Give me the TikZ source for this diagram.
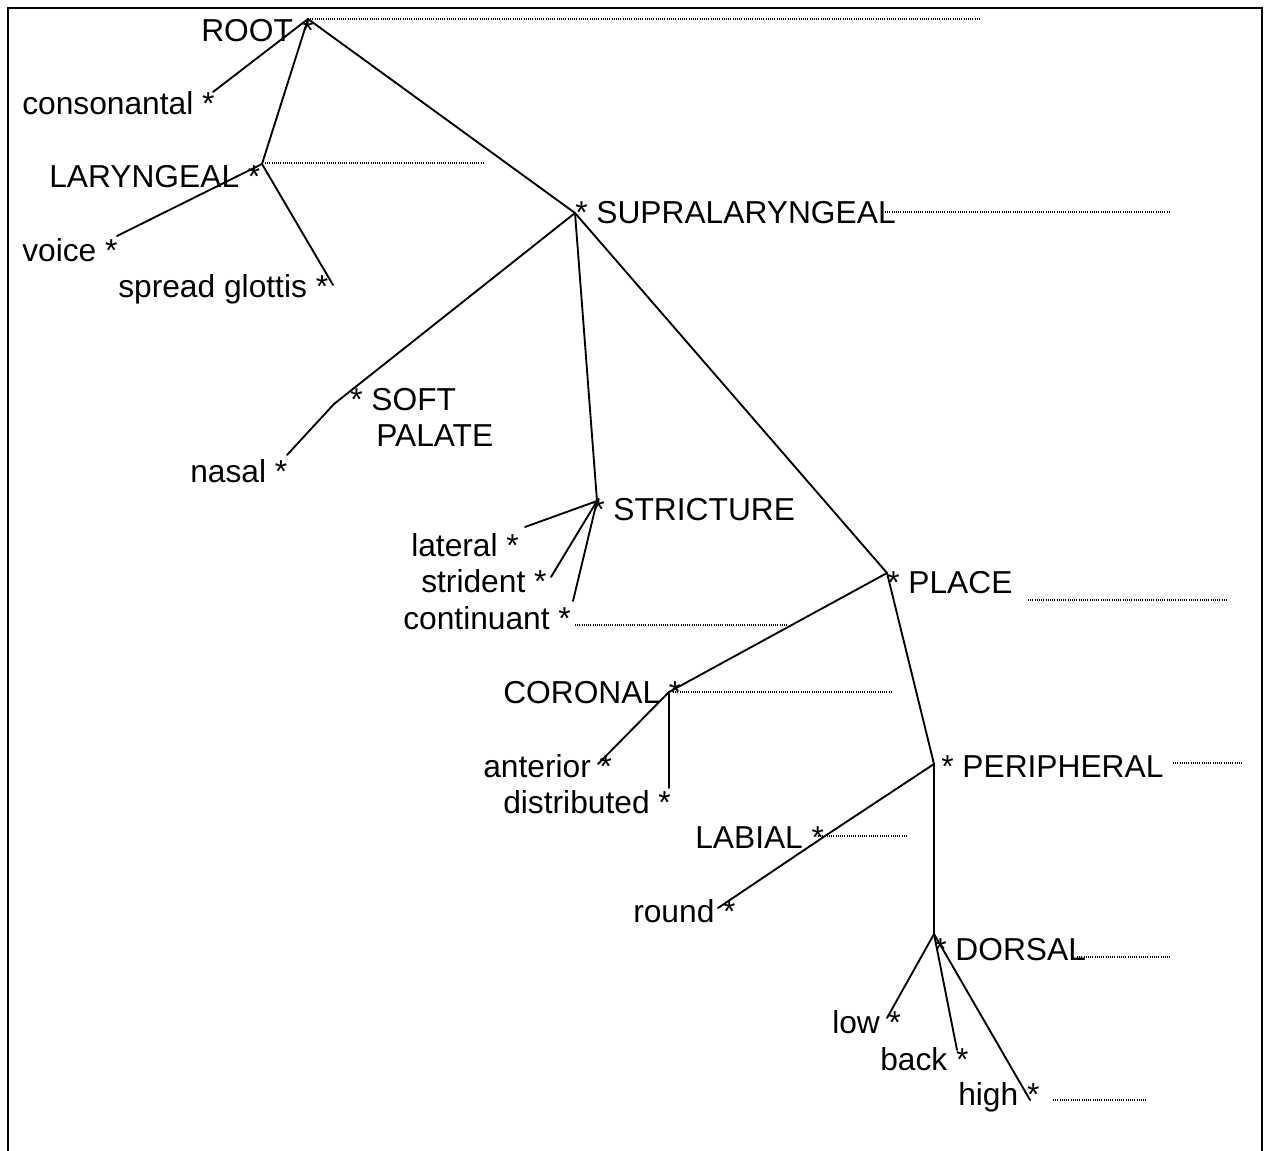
\documentclass[tikz,border=0pt]{standalone}
\usepackage{fontspec}
\setmainfont{Liberation Sans}
\begin{document}
\begin{tikzpicture}[x=0.75pt,y=-0.75pt,
  branch/.style={line width=1.4pt, line cap=round, line join=round},
  tier/.style={line width=0.8pt, dash pattern=on 0.75pt off 0.9pt},
  frameline/.style={line width=1.5pt},
  lbl/.style={anchor=base west, inner sep=0pt, font=\fontsize{23.8}{28}\selectfont}]
\useasboundingbox (0,0) rectangle (1269,1151);
\draw[frameline] (8,1151) -- (8,8) -- (1262,8) -- (1262,1151);

% vertices of the feature tree
\coordinate (root) at (308,19);
\coordinate (cons) at (213,92);
\coordinate (lar) at (262,164);
\coordinate (voice) at (117,236);
\coordinate (sg) at (333,285);
\coordinate (supra) at (575,213);
\coordinate (soft) at (334,404);
\coordinate (nasal) at (287,455);
\coordinate (stric) at (597,501);
\coordinate (lat) at (525,527);
\coordinate (strid) at (551,577);
\coordinate (cont) at (573,601);
\coordinate (place) at (887,573);
\coordinate (cor) at (669,692);
\coordinate (ant) at (598,764);
\coordinate (dist) at (669,788);
\coordinate (peri) at (934,764);
\coordinate (lab) at (825,836);
\coordinate (round) at (718,908);
\coordinate (dors) at (934,934);
\coordinate (low) at (887,1018);
\coordinate (back) at (957,1050);
\coordinate (high) at (1030,1100);

% tier lines
\coordinate (rootT) at (980,19);
\coordinate (larT0) at (265,163);
\coordinate (larT) at (483,163);
\coordinate (supraT0) at (885,212);
\coordinate (supraT) at (1170,212);
\coordinate (contT0) at (575,625);
\coordinate (contT) at (788,625);
\coordinate (placeT0) at (1028,600);
\coordinate (placeT) at (1227,600);
\coordinate (corT0) at (673,692);
\coordinate (corT) at (892,692);
\coordinate (periT0) at (1173,763);
\coordinate (periT) at (1243,763);
\coordinate (labT0) at (818,836);
\coordinate (labT) at (907,836);
\coordinate (dorsT0) at (1077,957);
\coordinate (dorsT) at (1171,957);
\coordinate (highT0) at (1053,1100);
\coordinate (highT) at (1147,1100);

\draw[tier] (root) -- (rootT);
\draw[tier] (larT0) -- (larT);
\draw[tier] (supraT0) -- (supraT);
\draw[tier] (contT0) -- (contT);
\draw[tier] (placeT0) -- (placeT);
\draw[tier] (corT0) -- (corT);
\draw[tier] (periT0) -- (periT);
\draw[tier] (labT0) -- (labT);
\draw[tier] (dorsT0) -- (dorsT);
\draw[tier] (highT0) -- (highT);

% branches
\draw[branch] (root) -- (cons);
\draw[branch] (root) -- (lar);
\draw[branch] (lar) -- (voice);
\draw[branch] (lar) -- (sg);
\draw[branch] (root) -- (supra);
\draw[branch] (supra) -- (soft) -- (nasal);
\draw[branch] (supra) -- (stric);
\draw[branch] (stric) -- (lat);
\draw[branch] (stric) -- (strid);
\draw[branch] (stric) -- (cont);
\draw[branch] (supra) -- (place);
\draw[branch] (place) -- (cor);
\draw[branch] (cor) -- (ant);
\draw[branch] (cor) -- (dist);
\draw[branch] (place) -- (peri);
\draw[branch] (peri) -- (lab) -- (round);
\draw[branch] (peri) -- (dors);
\draw[branch] (dors) -- (low);
\draw[branch] (dors) -- (back);
\draw[branch] (dors) -- (high);

% labels
\node[lbl] (tRoot) at (201,42) {ROOT *};
\node[lbl] (tCons) at (22,115) {consonantal *};
\node[lbl] (tLar) at (49,188) {LARYNGEAL *};
\node[lbl] (tVoice) at (22,262) {voice *};
\node[lbl] (tSg) at (118,298) {spread glottis *};
\node[lbl] (tSupra) at (575,224) {* SUPRALARYNGEAL};
\node[lbl] (tSoft) at (350,410) {* SOFT};
\node[lbl] (tPalate) at (376,446) {PALATE};
\node[lbl] (tNasal) at (190,482) {nasal *};
\node[lbl] (tStric) at (592,520) {* STRICTURE};
\node[lbl] (tLat) at (411,556) {lateral *};
\node[lbl] (tStrid) at (421,592) {strident *};
\node[lbl] (tCont) at (403,629) {continuant *};
\node[lbl] (tPlace) at (887,593) {* PLACE};
\node[lbl] (tCor) at (503,703) {CORONAL *};
\node[lbl] (tAnt) at (483,777) {anterior *};
\node[lbl] (tDist) at (503,813) {distributed *};
\node[lbl] (tPeri) at (941,777) {* PERIPHERAL};
\node[lbl] (tLab) at (695,848) {LABIAL *};
\node[lbl] (tRound) at (633,922) {round *};
\node[lbl] (tDors) at (934,960) {* DORSAL};
\node[lbl] (tLow) at (832,1033) {low *};
\node[lbl] (tBack) at (880,1070) {back *};
\node[lbl] (tHigh) at (958,1105) {high *};
\end{tikzpicture}
\end{document}
